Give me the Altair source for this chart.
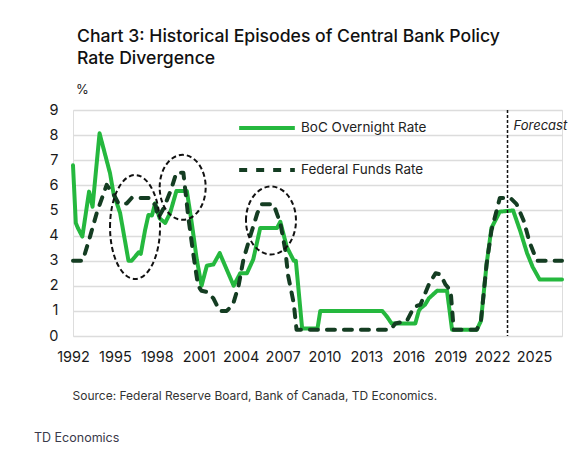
import altair as alt
import pandas as pd

# ---- data ----
boc_years = [1992.0, 1992.2, 1992.35, 1992.67, 1993.15, 1993.4, 1993.9, 1994.65, 1994.9, 1995.37,
             1995.97, 1996.2, 1996.7, 1996.85, 1997.16, 1997.4, 1997.65, 1997.88, 1998.2, 1998.6,
             1998.95, 1999.4, 2000.15, 2000.5, 2000.86, 2001.2, 2001.58, 2002.05, 2002.5, 2003.0,
             2003.5, 2003.97, 2004.45, 2004.9, 2005.4, 2006.1, 2006.6, 2006.84, 2007.3, 2007.8,
             2007.95, 2008.4, 2009.5, 2009.7, 2014.13, 2014.5, 2014.8, 2016.5, 2016.75, 2016.87,
             2017.2, 2017.47, 2018.06, 2018.77, 2019.13, 2020.9, 2021.2, 2021.6, 2021.95, 2022.55,
             2023.5, 2024.0, 2024.5, 2024.9, 2025.4, 2027.0]
boc_rates = [6.8, 4.5, 4.3, 3.96, 5.75, 5.15, 8.07, 6.48, 5.68, 4.9,
             3.0, 3.0, 3.33, 3.27, 4.22, 4.82, 4.8, 5.28, 4.69, 4.5,
             4.9, 5.77, 5.77, 4.5, 3.05, 2.0, 2.8, 2.85, 3.3, 2.65,
             2.0, 2.5, 2.5, 3.05, 4.3, 4.3, 4.3, 4.55, 3.55, 3.0,
             3.0, 0.3, 0.3, 1.0, 1.0, 0.75, 0.5, 0.5, 1.0, 1.1,
             1.25, 1.5, 1.8, 1.8, 0.25, 0.25, 0.6, 2.85, 4.3, 4.95,
             5.0, 4.2, 3.3, 2.75, 2.25, 2.25]

fed_years = [1992.0, 1992.7, 1993.22, 1993.7, 1994.41, 1995.0, 1995.25, 1995.85, 1996.2, 1997.5,
             1997.9, 1998.1, 1998.5, 1999.0, 1999.4, 1999.9, 2000.25, 2000.6, 2000.95, 2001.2,
             2001.6, 2002.05, 2002.5, 2003.0, 2003.45, 2003.85, 2004.2, 2004.7, 2005.2, 2005.5,
             2006.35, 2006.84, 2007.2, 2007.4, 2007.8, 2008.0, 2014.72, 2015.07, 2015.9, 2016.4,
             2016.87, 2017.47, 2017.95, 2018.3, 2018.66, 2019.03, 2019.25, 2020.9, 2021.2, 2021.6,
             2021.95, 2022.55, 2023.3, 2023.75, 2024.25, 2024.7, 2025.2, 2027.0]
fed_rates = [3.0, 3.0, 3.96, 4.9, 6.02, 5.55, 5.28, 5.28, 5.5, 5.5,
             5.2, 4.7, 5.1, 5.8, 6.5, 6.5, 4.75, 3.3, 2.0, 1.8,
             1.75, 1.5, 1.0, 1.0, 1.25, 2.0, 3.05, 4.0, 4.9, 5.25,
             5.25, 4.5, 3.4, 2.4, 1.3, 0.25, 0.25, 0.5, 0.6, 1.15,
             1.25, 2.05, 2.5, 2.45, 2.05, 1.8, 0.25, 0.25, 0.6, 2.85,
             4.2, 5.5, 5.5, 5.25, 4.6, 3.7, 3.0, 3.0]

series_names = ["BoC Overnight Rate", "Federal Funds Rate"]
x_tick_years = [1992, 1995, 1998, 2001, 2004, 2007, 2010, 2013, 2016, 2019, 2022, 2025]
y_ticks = [0, 1, 2, 3, 4, 5, 6, 7, 8, 9]

# divergence episodes (centre year, centre rate)
episode_years = [1996.44, 1999.85, 2006.17]
episode_rates = [4.34, 5.92, 4.6]

forecast_year = 2023.1
forecast_label_rate = 8.35

title_lines = ["Chart 3: Historical Episodes of Central Bank Policy", "Rate Divergence"]
unit_text = "%"
source_text = "Source: Federal Reserve Board, Bank of Canada, TD Economics."
footer_text = "TD Economics"

# ---- styles ----
FONT = "Inter"
GREEN = "#25b83e"
DARK = "#143d22"
ellipse_px = [(50, 104), (46, 65), (50, 68)]  # width, height in pixels


def ellipse_path(w, h):
    k = h / w
    c = 0.5523
    return (f"M-1,0 C-1,{-c*k:.3f} {-c:.3f},{-k:.3f} 0,{-k:.3f} "
            f"C{c:.3f},{-k:.3f} 1,{-c*k:.3f} 1,0 "
            f"C1,{c*k:.3f} {c:.3f},{k:.3f} 0,{k:.3f} "
            f"C{-c:.3f},{k:.3f} -1,{c*k:.3f} -1,0 Z")


boc_df = pd.DataFrame({"year": boc_years, "rate": boc_rates, "series": series_names[0]})
fed_df = pd.DataFrame({"year": fed_years, "rate": fed_rates, "series": series_names[1]})
ep_df = pd.DataFrame({
    "year": episode_years,
    "rate": episode_rates,
    "shape": [ellipse_path(w, h) for w, h in ellipse_px],
    "size": [w * w for w, h in ellipse_px],
})
fc_df = pd.DataFrame({"year": [forecast_year], "rate": [forecast_label_rate], "label": ["Forecast"]})

x_scale = alt.Scale(domain=[1992, 2027], nice=False, zero=False)
y_scale = alt.Scale(domain=[0, 9], nice=False, zero=True)

x_axis = alt.Axis(
    values=x_tick_years, format="d", grid=False, domain=False, ticks=False,
    labelPadding=14, labelFontSize=14.5, labelColor="#1a1a1a", labelFont=FONT,
    labelFlush=False, labelOverlap=False,
    title=source_text, titleFont=FONT, titleFontSize=12, titleFontWeight="normal",
    titleColor="#333333", titleAnchor="start", titleAlign="left", titleX=-1, titleY=63,
    titleBaseline="alphabetic")
y_axis = alt.Axis(
    values=y_ticks, tickCount=10, grid=True, gridColor="#dcdcdc", gridWidth=1.5, domain=False,
    ticks=False, labelPadding=15, labelFontSize=14.5, labelColor="#1a1a1a", labelFont=FONT,
    labelOverlap=False, labelFlush=False, title=None)

x_enc = alt.X("year:Q", scale=x_scale, axis=x_axis)
y_enc = alt.Y("rate:Q", scale=y_scale, axis=y_axis)

color_enc = alt.Color("series:N", scale=alt.Scale(domain=series_names, range=[GREEN, DARK]),
                      legend=alt.Legend(
                          title=None, orient="none", legendX=164, legendY=-12,
                          symbolType="stroke", symbolStrokeWidth=4, symbolSize=3100,
                          labelFont=FONT, labelFontSize=13.5, labelColor="#222222",
                          rowPadding=4, labelOffset=4))
dash_enc = alt.StrokeDash("series:N", scale=alt.Scale(domain=series_names, range=[[1, 0], [8, 9]]),
                          legend=None)

boc_line = alt.Chart(boc_df).mark_line(strokeWidth=4, strokeCap="round", strokeJoin="round").encode(
    x=x_enc, y=y_enc, color=color_enc, strokeDash=dash_enc)
fed_line = alt.Chart(fed_df).mark_line(strokeWidth=4, strokeCap="round", strokeJoin="round").encode(
    x=x_enc, y=y_enc, color=color_enc, strokeDash=dash_enc)

ellipses = alt.Chart(ep_df).mark_point(filled=False, stroke="#111111", strokeWidth=2,
                                       strokeDash=[5, 3], opacity=1).encode(
    x=x_enc, y=y_enc,
    shape=alt.Shape("shape:N", scale=None),
    size=alt.Size("size:Q", scale=None))

fc_rule = alt.Chart(fc_df).mark_rule(color="#111111", strokeWidth=1.5, strokeDash=[3, 2]).encode(
    x=x_enc)
fc_text = alt.Chart(fc_df).mark_text(align="left", baseline="middle", dx=6, fontStyle="italic",
                                     font=FONT, fontSize=13, color="#222222").encode(
    x=x_enc, y=y_enc, text="label:N")

unit = alt.Chart(pd.DataFrame({"t": [unit_text]})).mark_text(
    align="left", baseline="alphabetic", font=FONT, fontSize=13, color="#1a1a1a").encode(
    x=alt.value(3), y=alt.value(-16), text="t:N")

footer = alt.Chart(pd.DataFrame({"t": [footer_text]})).mark_text(
    align="left", baseline="alphabetic", font=FONT, fontSize=12.5, color="#3a3a4a").encode(
    x=alt.value(-39), y=alt.value(332), text="t:N")

chart = alt.layer(boc_line, fed_line, ellipses, fc_rule, fc_text, unit, footer).properties(
    width=489, height=226,
    title=alt.TitleParams(text=title_lines, anchor="start", frame="group", font=FONT, fontSize=17.6,
                          fontWeight=500, color="#111111", lineHeight=22, offset=16, dx=4),
    autosize=alt.AutoSizeParams(type="none"),
    padding={"left": 65, "top": 102, "right": 13, "bottom": 108},
).configure_view(stroke=None).configure(background="white")

chart.save("out.html", embed_options={"renderer": "svg", "actions": False})
